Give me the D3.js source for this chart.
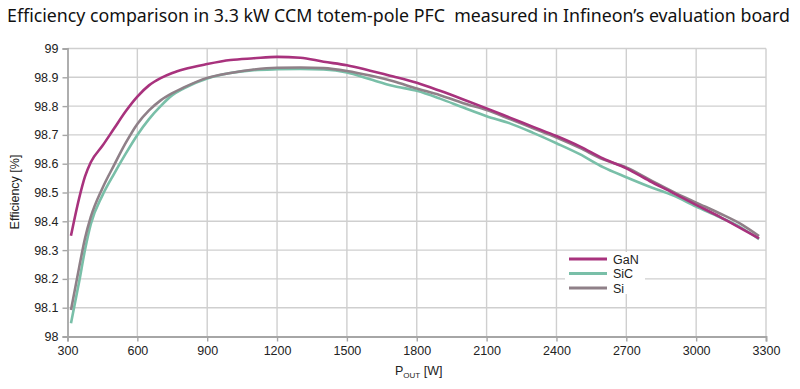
<!DOCTYPE html>
<html>
<head>
<meta charset="utf-8">
<script src="https://cdn.jsdelivr.net/npm/d3@7"></script>
<style>
  body { margin: 0; background: #fff; }
  svg { display: block; }
</style>
</head>
<body>
<svg id="chart" width="800" height="389"></svg>
<script>
// output power [W], shared by the three curves
const power = [315, 350, 375, 400, 450, 500, 550, 600, 650, 700, 750, 800, 900, 1000, 1100, 1200,
  1300, 1400, 1500, 1600, 1700, 1800, 1900, 2000, 2100, 2200, 2300, 2400, 2500, 2600, 2700,
  2800, 2900, 3000, 3100, 3200, 3270];

const ganEff = [98.35, 98.48, 98.555, 98.605, 98.662, 98.722, 98.782, 98.833, 98.872, 98.897, 98.915,
  98.928, 98.946, 98.96, 98.966, 98.971, 98.968, 98.954, 98.942, 98.923, 98.903, 98.881, 98.853,
  98.823, 98.792, 98.76, 98.728, 98.696, 98.66, 98.618, 98.584, 98.54, 98.499, 98.457, 98.416,
  98.372, 98.341];

const sicEff = [98.046, 98.19, 98.30, 98.39, 98.49, 98.565, 98.635, 98.70, 98.755, 98.80, 98.838,
  98.862, 98.896, 98.915, 98.925, 98.928, 98.929, 98.927, 98.917, 98.893, 98.870, 98.853, 98.826,
  98.795, 98.765, 98.74, 98.707, 98.671, 98.633, 98.588, 98.553, 98.52, 98.49, 98.451, 98.415,
  98.375, 98.338];

const siEff = [98.092, 98.24, 98.34, 98.415, 98.515, 98.595, 98.672, 98.738, 98.785, 98.82, 98.845,
  98.865, 98.898, 98.915, 98.927, 98.933, 98.934, 98.932, 98.922, 98.906, 98.886, 98.861, 98.838,
  98.81, 98.786, 98.755, 98.723, 98.691, 98.655, 98.615, 98.587, 98.545, 98.503, 98.465, 98.428,
  98.387, 98.349];

const seriesNames = ["GaN", "SiC", "Si"];
const seriesColors = ["#a8327d", "#79bfa8", "#8f8088"];
const xTicks = [300, 600, 900, 1200, 1500, 1800, 2100, 2400, 2700, 3000, 3300];
const yTicks = [98, 98.1, 98.2, 98.3, 98.4, 98.5, 98.6, 98.7, 98.8, 98.9, 99];

const svg = d3.select("#chart");
const margin = { top: 48.5, right: 34, bottom: 52.5, left: 67.5 };
const width = 800, height = 389;

const x = d3.scaleLinear().domain([300, 3300]).range([margin.left, width - margin.right]);
const y = d3.scaleLinear().domain([98, 99]).range([height - margin.bottom, margin.top]);

// title
svg.append("text")
  .attr("x", 7).attr("y", 22)
  .attr("font-family", "Noto Sans, sans-serif")
  .attr("font-size", 18)
  .attr("fill", "#111")
  .attr("textLength", 783)
  .attr("lengthAdjust", "spacingAndGlyphs")
  .attr("xml:space", "preserve")
  .text("Efficiency comparison in 3.3 kW CCM totem-pole PFC  measured in Infineon\u2019s evaluation board");

// grid
svg.append("g")
  .selectAll("line")
  .data(yTicks.slice(1))
  .join("line")
  .attr("x1", margin.left).attr("x2", width - margin.right)
  .attr("y1", d => y(d)).attr("y2", d => y(d))
  .attr("stroke", "#cfcfcf").attr("stroke-width", 1.4);

svg.append("g")
  .selectAll("line")
  .data(xTicks.slice(1))
  .join("line")
  .attr("x1", d => x(d)).attr("x2", d => x(d))
  .attr("y1", margin.top).attr("y2", height - margin.bottom)
  .attr("stroke", "#cfcfcf").attr("stroke-width", 1.4);

// axes
const axisFont = "Liberation Sans, Arial, sans-serif";

svg.append("g")
  .attr("transform", `translate(${margin.left},0)`)
  .call(d3.axisLeft(y).tickValues(yTicks).tickFormat(d3.format("~g")).tickSize(5).tickPadding(4))
  .call(g => g.select(".domain").attr("stroke", "#a6a6a6").attr("stroke-width", 1.8))
  .call(g => g.selectAll(".tick line").attr("stroke", "#a6a6a6").attr("stroke-width", 1.4))
  .call(g => g.selectAll("text").attr("font-family", axisFont).attr("font-size", 12.5).attr("fill", "#222"));

svg.append("g")
  .attr("transform", `translate(0,${height - margin.bottom})`)
  .call(d3.axisBottom(x).tickValues(xTicks).tickFormat(d3.format("d")).tickSize(5).tickPadding(5))
  .call(g => g.select(".domain").attr("stroke", "#a6a6a6").attr("stroke-width", 1.8))
  .call(g => g.selectAll(".tick line").attr("stroke", "#a6a6a6").attr("stroke-width", 1.4))
  .call(g => g.selectAll("text").attr("font-family", axisFont).attr("font-size", 12.5).attr("fill", "#222"));

// axis titles
svg.append("text")
  .attr("transform", "translate(19,192) rotate(-90)")
  .attr("text-anchor", "middle")
  .attr("font-family", axisFont).attr("font-size", 12.5).attr("fill", "#222")
  .text("Efficiency [%]");

const xl = svg.append("text")
  .attr("x", 395).attr("y", 375)
  .attr("font-family", axisFont).attr("font-size", 12.5).attr("fill", "#222");
xl.append("tspan").text("P");
xl.append("tspan").attr("font-size", 8).attr("dy", 3).text("OUT");
xl.append("tspan").attr("dy", -3).text(" [W]");

// curves
const series = [ganEff, sicEff, siEff].map((vals, i) => ({
  name: seriesNames[i],
  color: seriesColors[i],
  values: vals.map((v, j) => ({ p: power[j], e: v }))
}));

const line = d3.line()
  .x(d => x(d.p))
  .y(d => y(d.e))
  .curve(d3.curveMonotoneX);

// SiC first, then Si, GaN on top
svg.append("g")
  .selectAll("path")
  .data([series[1], series[2], series[0]])
  .join("path")
  .attr("d", d => line(d.values))
  .attr("fill", "none")
  .attr("stroke", d => d.color)
  .attr("stroke-width", 2.6)
  .attr("stroke-linejoin", "round");

// legend
const legend = svg.append("g");
legend.append("rect")
  .attr("x", 565).attr("y", 252).attr("width", 80).attr("height", 42)
  .attr("fill", "#fff");

const item = legend.selectAll("g")
  .data(series)
  .join("g")
  .attr("transform", (d, i) => `translate(0,${259 + i * 14.5})`);

item.append("line")
  .attr("x1", 569).attr("x2", 607)
  .attr("stroke", d => d.color).attr("stroke-width", 3);

item.append("text")
  .attr("x", 613).attr("y", 4.5)
  .attr("font-family", axisFont).attr("font-size", 12.5).attr("fill", "#222")
  .text(d => d.name);
</script>
</body>
</html>
